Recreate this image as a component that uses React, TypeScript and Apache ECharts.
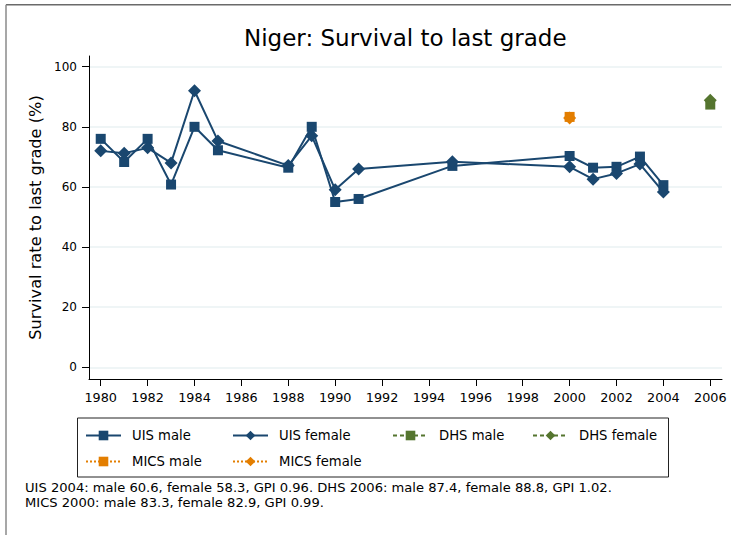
import React, { useEffect, useRef } from "react";
import * as echarts from "echarts";

const years = [1980, 1981, 1982, 1983, 1984, 1985, 1988, 1989, 1990, 1991, 1995, 2000, 2001, 2002, 2003, 2004];
const uisMale = [76, 68.3, 76, 60.8, 80, 72.2, 66.4, 80, 55, 56, 67.0, 70.3, 66.4, 66.7, 70.1, 60.6];
const uisFemale = [72, 71.2, 73, 68, 92, 75.3, 67.1, 77, 59.1, 66, 68.4, 66.7, 62.6, 64.5, 67.6, 58.3];
const dhsYears = [2006];
const dhsMale = [87.4];
const dhsFemale = [88.8];
const micsYears = [2000];
const micsMale = [83.3];
const micsFemale = [82.9];
const xTicks = [1980, 1982, 1984, 1986, 1988, 1990, 1992, 1994, 1996, 1998, 2000, 2002, 2004, 2006];
const yTicks = [0, 20, 40, 60, 80, 100];

const titleText = "Niger: Survival to last grade";
const yTitle = "Survival rate to last grade (%)";
const noteText =
  "UIS 2004: male 60.6, female 58.3, GPI 0.96. DHS 2006: male 87.4, female 88.8, GPI 1.02.\nMICS 2000: male 83.3, female 82.9, GPI 0.99.";

const NAVY = "#1a476f";
const GREEN = "#55752f";
const ORANGE = "#e37e00";
const FONT = "'DejaVu Sans', Verdana, sans-serif";

const pairs = (xs: number[], ys: number[]) => xs.map((x, i) => [x, ys[i]]);

export default function App() {
  const ref = useRef<HTMLDivElement>(null);
  useEffect(() => {
    if (!ref.current) return;
    const chart = echarts.init(ref.current, undefined, { renderer: "svg" });
    const legendCommon = {
      orient: "vertical" as const,
      top: 429,
      padding: 0,
      itemGap: 13,
      itemWidth: 35,
      itemHeight: 12,
      textStyle: { fontSize: 13.2, color: "#000", fontFamily: FONT, padding: [0, 0, 0, 6] },
    };
    chart.setOption({
      animation: false,
      backgroundColor: "#fff",
      textStyle: { fontFamily: FONT },
      title: [
        {
          text: titleText,
          left: 244,
          top: 26,
          padding: 0,
          textStyle: { fontSize: 23, fontWeight: "normal", color: "#000", fontFamily: FONT, lineHeight: 24 },
        },
        {
          text: noteText,
          left: 25,
          top: 480,
          padding: 0,
          textStyle: { fontSize: 13.1, fontWeight: "normal", color: "#000", fontFamily: FONT, lineHeight: 15.2 },
        },
      ],
      grid: { left: 89, right: 9, top: 56, bottom: 156, containLabel: false },
      xAxis: {
        type: "value",
        min: 1979.5,
        max: 2006.5,
        axisLine: { show: true, onZero: false, lineStyle: { color: "#000", width: 1 } },
        axisTick: { show: true, length: 7, customValues: xTicks, lineStyle: { color: "#000" } },
        axisLabel: {
          customValues: xTicks,
          formatter: (v: number) => String(v),
          fontSize: 12.8,
          color: "#000",
          margin: 11.5,
          fontFamily: FONT,
        },
        splitLine: { show: false },
      },
      yAxis: {
        type: "value",
        min: -3.89,
        max: 103.56,
        name: yTitle,
        nameLocation: "middle",
        nameGap: 45,
        nameTextStyle: { fontSize: 16.2, color: "#000", fontFamily: FONT },
        axisLine: { show: true, onZero: false, lineStyle: { color: "#000", width: 1 } },
        axisTick: { show: true, length: 7, customValues: yTicks, lineStyle: { color: "#000" } },
        axisLabel: { customValues: yTicks, fontSize: 12, color: "#000", margin: 12, fontFamily: FONT },
        splitLine: { show: true, lineStyle: { color: "#eaf2f3", width: 1.5 } },
      },
      legend: [
        { ...legendCommon, left: 85, data: ["UIS male", "MICS male"] },
        { ...legendCommon, left: 232, data: ["UIS female", "MICS female"] },
        { ...legendCommon, left: 392, data: ["DHS male"] },
        { ...legendCommon, left: 532, data: ["DHS female"] },
      ],
      series: [
        {
          name: "UIS male",
          type: "line",
          data: pairs(years, uisMale),
          symbol: "rect",
          symbolSize: 10,
          color: NAVY,
          lineStyle: { color: NAVY, width: 2 },
          itemStyle: { color: NAVY },
        },
        {
          name: "UIS female",
          type: "line",
          data: pairs(years, uisFemale),
          symbol: "diamond",
          symbolSize: 13,
          color: NAVY,
          lineStyle: { color: NAVY, width: 2 },
          itemStyle: { color: NAVY },
        },
        {
          name: "DHS male",
          type: "line",
          data: pairs(dhsYears, dhsMale),
          symbol: "rect",
          symbolSize: 10,
          showSymbol: true,
          color: GREEN,
          lineStyle: { color: GREEN, width: 1.5, type: [4, 3] },
          itemStyle: { color: GREEN },
        },
        {
          name: "DHS female",
          type: "line",
          data: pairs(dhsYears, dhsFemale),
          symbol: "diamond",
          symbolSize: 13,
          showSymbol: true,
          color: GREEN,
          lineStyle: { color: GREEN, width: 1.5, type: [4, 3] },
          itemStyle: { color: GREEN },
        },
        {
          name: "MICS male",
          type: "line",
          data: pairs(micsYears, micsMale),
          symbol: "rect",
          symbolSize: 10,
          showSymbol: true,
          color: ORANGE,
          lineStyle: { color: ORANGE, width: 1.5, type: "dotted" },
          itemStyle: { color: ORANGE },
        },
        {
          name: "MICS female",
          type: "line",
          data: pairs(micsYears, micsFemale),
          symbol: "diamond",
          symbolSize: 13,
          showSymbol: true,
          color: ORANGE,
          lineStyle: { color: ORANGE, width: 1.5, type: "dotted" },
          itemStyle: { color: ORANGE },
        },
      ],
      graphic: [
        {
          type: "line",
          shape: { x1: 6, y1: 4.7, x2: 731, y2: 4.7 },
          style: { stroke: "#6a6a6a", lineWidth: 1.5 },
          silent: true,
        },
        {
          type: "line",
          shape: { x1: 6, y1: 4.7, x2: 6, y2: 535 },
          style: { stroke: "#8a8a8a", lineWidth: 1.5 },
          silent: true,
        },
        {
          type: "rect",
          shape: { x: 77.5, y: 418, width: 591, height: 59 },
          style: { fill: "none", stroke: "#222", lineWidth: 1 },
          silent: true,
        },
      ],
    });
    return () => chart.dispose();
  }, []);
  return (
    <div
      ref={ref}
      style={{ position: "absolute", left: 0, top: 0, width: 731, height: 535, background: "#fff" }}
    />
  );
}
